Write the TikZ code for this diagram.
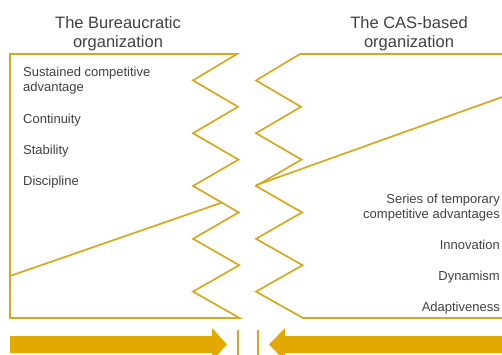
\documentclass[tikz,border=0pt]{standalone}
\usepackage{fontspec}
\setmainfont{Liberation Sans}
\usepackage{tikz}
\definecolor{casgold}{RGB}{214,168,30}
\definecolor{arrowgold}{RGB}{226,170,0}
\definecolor{txtgrey}{RGB}{64,64,64}

\begin{document}
\begin{tikzpicture}[x=1pt,y=-1pt,
    outline/.style={draw=casgold,line width=1.7pt,line join=miter},
    bigarrow/.style={fill=arrowgold,draw=none},
    title/.style={align=center,font=\fontsize{16.5}{19.5}\selectfont,text=txtgrey,inner sep=0pt,anchor=base},
    item/.style={font=\fontsize{13}{15}\selectfont,text=txtgrey,inner sep=0pt,anchor=base west,align=left},
    ritem/.style={font=\fontsize{13}{15}\selectfont,text=txtgrey,inner sep=0pt,anchor=base east,align=right}]
\useasboundingbox (0,0) rectangle (502,354);
\clip (0,0) rectangle (502,354);
% left side: closed box with zigzag edge
\draw[outline] (10,54) -- (237,54)
    \foreach \i in {0,...,4} {-- (193,54+26.4*2*\i+26.4) -- (238+0.4*\i,54+26.4*2*\i+52.8)}
    -- (10,318) -- cycle;
\draw[outline] (10,276) -- (222.3,202.4);
% right side: open to the right
\draw[outline] (510,54) -- (300,54)
    \foreach \i in {0,...,4} {-- (256,54+26.4*2*\i+26.4) -- (301+0.5*\i,54+26.4*2*\i+52.8)}
    -- (510,318);
\draw[outline] (256,185.2) -- (510,94.2);
% titles (base = last line)
\node[title] (bureau) at (118,47.5) {The Bureaucratic\\organization};
\node[title] (cas) at (409,47.5) {The CAS-based\\organization};
% left items
\node[item] (sustained) at (23,91) {Sustained competitive\\advantage};
\node[item] (continuity) at (23,123) {Continuity};
\node[item] (stability) at (23,154) {Stability};
\node[item] (discipline) at (23,185) {Discipline};
% right items
\node[ritem] (series) at (500,218) {Series of temporary\\competitive advantages};
\node[ritem] (innovation) at (500,249) {Innovation};
\node[ritem] (dynamism) at (500,280) {Dynamism};
\node[ritem] (adaptive) at (500,311) {Adaptiveness};
% arrows and the gap
\fill[bigarrow] (10,336) -- (212,336) -- (212,328) -- (227,344.5) -- (212,361) -- (212,353) -- (10,353) -- cycle;
\fill[bigarrow] (510,336) -- (285,336) -- (285,328) -- (269,344.5) -- (285,361) -- (285,353) -- (510,353) -- cycle;
\draw[outline] (238,330) -- (238,360);
\draw[outline] (258,330) -- (258,360);
\end{tikzpicture}
\end{document}
